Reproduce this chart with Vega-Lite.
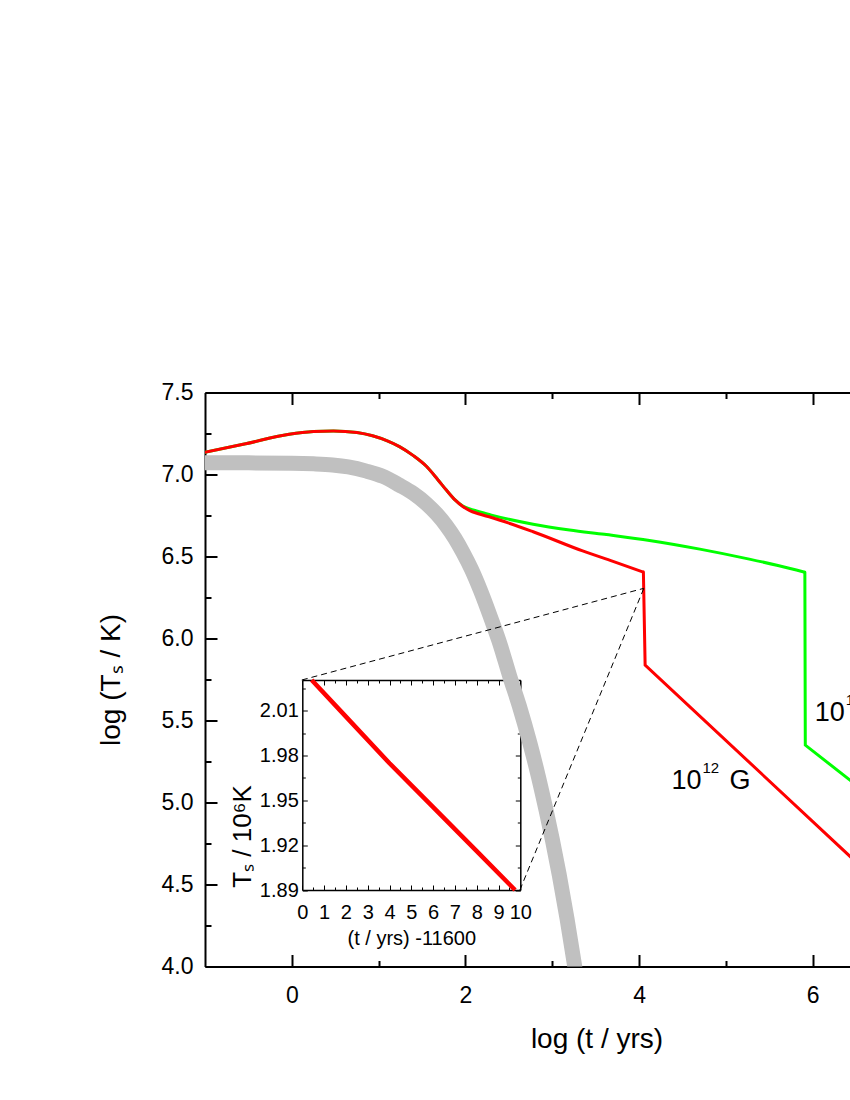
{
  "$schema": "https://vega.github.io/schema/vega-lite/v6.json",
  "width": 645,
  "height": 574,
  "autosize": {"type": "none"},
  "padding": {"left": 205, "top": 392.5, "right": 0, "bottom": 133.5},
  "background": "white",
  "config": {
    "view": {"stroke": null},
    "axis": {
      "grid": false,
      "domainColor": "black",
      "tickColor": "black",
      "labelColor": "black",
      "titleColor": "black",
      "labelFont": "Liberation Sans",
      "titleFont": "Liberation Sans",
      "titleFontWeight": "normal",
      "labelFlush": false,
      "labelOverlap": false,
      "tickCap": "butt"
    }
  },
  "datasets": {
    "gray": [
      {"x": -1.05, "y": 7.072}, {"x": -0.5, "y": 7.071}, {"x": 0, "y": 7.069}, {"x": 0.25, "y": 7.065},
      {"x": 0.47, "y": 7.058}, {"x": 0.65, "y": 7.046}, {"x": 0.86, "y": 7.0205}, {"x": 1.05, "y": 6.988},
      {"x": 1.24, "y": 6.935}, {"x": 1.4, "y": 6.885}, {"x": 1.55, "y": 6.822}, {"x": 1.67, "y": 6.759},
      {"x": 1.78, "y": 6.688}, {"x": 1.88, "y": 6.61}, {"x": 1.97, "y": 6.526}, {"x": 2.07, "y": 6.421},
      {"x": 2.17, "y": 6.297}, {"x": 2.3, "y": 6.114}, {"x": 2.4, "y": 5.963}, {"x": 2.51, "y": 5.77},
      {"x": 2.62, "y": 5.59}, {"x": 2.74, "y": 5.367}, {"x": 2.84, "y": 5.159}, {"x": 2.93, "y": 4.95},
      {"x": 3.0, "y": 4.777}, {"x": 3.08, "y": 4.561}, {"x": 3.17, "y": 4.293}, {"x": 3.26, "y": 3.997},
      {"x": 3.4, "y": 3.484}
    ],
    "red": [
      {"x": -1.05, "y": 7.13}, {"x": -0.56, "y": 7.184}, {"x": -0.03, "y": 7.245}, {"x": 0.25, "y": 7.262},
      {"x": 0.48, "y": 7.266}, {"x": 0.75, "y": 7.256}, {"x": 0.93, "y": 7.236}, {"x": 1.1, "y": 7.205},
      {"x": 1.24, "y": 7.17}, {"x": 1.4, "y": 7.115}, {"x": 1.55, "y": 7.05}, {"x": 1.68, "y": 6.97},
      {"x": 1.78, "y": 6.905}, {"x": 1.88, "y": 6.845}, {"x": 1.97, "y": 6.805}, {"x": 2.05, "y": 6.78},
      {"x": 2.14, "y": 6.762}, {"x": 2.3, "y": 6.738}, {"x": 2.78, "y": 6.651}, {"x": 3.35, "y": 6.534},
      {"x": 3.7, "y": 6.47}, {"x": 4.05, "y": 6.405}
    ],
    "redtail": [
      {"x": 4.05, "y": 6.405}, {"x": 4.07, "y": 5.838}, {"x": 7.0, "y": 4.39}
    ],
    "green": [
      {"x": -1.05, "y": 7.13}, {"x": -0.56, "y": 7.184}, {"x": -0.03, "y": 7.245}, {"x": 0.25, "y": 7.262},
      {"x": 0.48, "y": 7.266}, {"x": 0.75, "y": 7.256}, {"x": 0.93, "y": 7.236}, {"x": 1.1, "y": 7.205},
      {"x": 1.24, "y": 7.17}, {"x": 1.4, "y": 7.115}, {"x": 1.55, "y": 7.05}, {"x": 1.68, "y": 6.97},
      {"x": 1.78, "y": 6.905}, {"x": 1.88, "y": 6.845}, {"x": 1.97, "y": 6.807}, {"x": 2.05, "y": 6.79},
      {"x": 2.14, "y": 6.776}, {"x": 2.3, "y": 6.752}, {"x": 2.78, "y": 6.697}, {"x": 3.2, "y": 6.662},
      {"x": 3.6, "y": 6.635}, {"x": 4.12, "y": 6.598}, {"x": 4.7, "y": 6.545}, {"x": 5.27, "y": 6.484},
      {"x": 5.6, "y": 6.445}, {"x": 5.91, "y": 6.404}
    ],
    "greentail": [
      {"x": 5.91, "y": 6.404}, {"x": 5.915, "y": 5.35}, {"x": 7.0, "y": 4.9}
    ],
    "zoomlines": [
      {"seg": "a", "x": 4.055, "y": 6.306}, {"seg": "a", "x": 0.115, "y": 5.747},
      {"seg": "b", "x": 4.055, "y": 6.306}, {"seg": "b", "x": 2.627, "y": 4.466}
    ],
    "labels": [
      {"x": 4.374, "y": 5.08, "base": "10", "sup": "12", "unit": "G"},
      {"x": 6.025, "y": 5.499, "base": "10", "sup": "13", "unit": "G"}
    ],
    "inset": [
      {"t": 0.43, "T": 2.0305}, {"t": 2, "T": 2.006}, {"t": 4, "T": 1.9748},
      {"t": 6, "T": 1.9455}, {"t": 8, "T": 1.916}, {"t": 9.76, "T": 1.89}
    ]
  },
  "resolve": {"scale": {"x": "independent", "y": "independent"}, "axis": {"x": "independent", "y": "independent"}},
  "layer": [
    {
      "data": {"name": "gray"},
      "mark": {"type": "line", "color": "#c0c0c0", "strokeWidth": 15, "clip": true, "interpolate": "monotone", "strokeCap": "butt"},
      "encoding": {
        "x": {"field": "x", "type": "quantitative", "scale": {"domain": [-1, 6.43], "nice": false, "zero": false},
          "axis": {"orient": "bottom", "values": [0, 2, 4, 6], "tickSize": -12, "tickWidth": 2, "domainWidth": 2,
            "labelPadding": 30, "labelFontSize": 23, "title": "log (t / yrs)", "titleFontSize": 28, "titlePadding": 18, "titleX": 391.5}},
        "y": {"field": "y", "type": "quantitative", "scale": {"domain": [4, 7.5], "nice": false, "zero": false},
          "axis": {"orient": "left", "values": [4, 4.5, 5, 5.5, 6, 6.5, 7, 7.5], "format": ".1f", "tickSize": -12, "tickWidth": 2, "domainWidth": 2,
            "labelPadding": 24, "labelFontSize": 23, "title": "log (Tₛ / K)", "titleFontSize": 28, "titlePadding": 36}}
      }
    },
    {
      "data": {"name": "green"},
      "mark": {"type": "line", "color": "#00ff00", "strokeWidth": 3, "clip": true, "interpolate": "monotone"},
      "encoding": {
        "x": {"field": "x", "type": "quantitative", "scale": {"domain": [-1, 6.43], "nice": false, "zero": false},
          "axis": {"orient": "bottom", "values": [1, 3, 5], "tickSize": -6, "tickWidth": 2, "domain": false, "labels": false, "title": null}},
        "y": {"field": "y", "type": "quantitative", "scale": {"domain": [4, 7.5], "nice": false, "zero": false},
          "axis": {"orient": "left", "values": [4.25, 4.75, 5.25, 5.75, 6.25, 6.75, 7.25], "tickSize": -6, "tickWidth": 2, "domain": false, "labels": false, "title": null}}
      }
    },
    {
      "data": {"name": "greentail"},
      "mark": {"type": "line", "color": "#00ff00", "strokeWidth": 3, "clip": true, "strokeCap": "round"},
      "encoding": {
        "x": {"field": "x", "type": "quantitative", "scale": {"domain": [-1, 6.43], "nice": false, "zero": false}, "axis": null},
        "y": {"field": "y", "type": "quantitative", "scale": {"domain": [4, 7.5], "nice": false, "zero": false}, "axis": null}
      }
    },
    {
      "data": {"name": "red"},
      "mark": {"type": "line", "color": "#ff0000", "strokeWidth": 3, "clip": true, "interpolate": "monotone"},
      "encoding": {
        "x": {"field": "x", "type": "quantitative", "scale": {"domain": [-1, 6.43], "nice": false, "zero": false},
          "axis": {"orient": "top", "values": [0, 2, 4, 6], "tickSize": -12, "tickWidth": 2, "domainWidth": 2, "labels": false, "title": null}},
        "y": {"field": "y", "type": "quantitative", "scale": {"domain": [4, 7.5], "nice": false, "zero": false}, "axis": null}
      }
    },
    {
      "data": {"name": "redtail"},
      "mark": {"type": "line", "color": "#ff0000", "strokeWidth": 3, "clip": true, "strokeCap": "round"},
      "encoding": {
        "x": {"field": "x", "type": "quantitative", "scale": {"domain": [-1, 6.43], "nice": false, "zero": false}, "axis": null},
        "y": {"field": "y", "type": "quantitative", "scale": {"domain": [4, 7.5], "nice": false, "zero": false}, "axis": null}
      }
    },
    {
      "data": {"name": "zoomlines"},
      "mark": {"type": "line", "color": "black", "strokeWidth": 1, "strokeDash": [6, 4], "clip": true},
      "encoding": {
        "detail": {"field": "seg"},
        "x": {"field": "x", "type": "quantitative", "scale": {"domain": [-1, 6.43], "nice": false, "zero": false},
          "axis": {"orient": "top", "values": [1, 3, 5], "tickSize": -6, "tickWidth": 2, "domain": false, "labels": false, "title": null}},
        "y": {"field": "y", "type": "quantitative", "scale": {"domain": [4, 7.5], "nice": false, "zero": false}, "axis": null}
      }
    },
    {
      "data": {"name": "labels"},
      "mark": {"type": "text", "font": "Liberation Sans", "fontSize": 27, "align": "left", "baseline": "alphabetic", "color": "black", "clip": true},
      "encoding": {
        "text": {"field": "base"},
        "x": {"field": "x", "type": "quantitative", "scale": {"domain": [-1, 6.43], "nice": false, "zero": false}, "axis": null},
        "y": {"field": "y", "type": "quantitative", "scale": {"domain": [4, 7.5], "nice": false, "zero": false}, "axis": null}
      }
    },
    {
      "data": {"name": "labels"},
      "mark": {"type": "text", "font": "Liberation Sans", "fontSize": 15, "align": "left", "baseline": "alphabetic", "color": "black", "clip": true, "dx": 31, "dy": -16},
      "encoding": {
        "text": {"field": "sup"},
        "x": {"field": "x", "type": "quantitative", "scale": {"domain": [-1, 6.43], "nice": false, "zero": false}, "axis": null},
        "y": {"field": "y", "type": "quantitative", "scale": {"domain": [4, 7.5], "nice": false, "zero": false}, "axis": null}
      }
    },
    {
      "data": {"name": "labels"},
      "mark": {"type": "text", "font": "Liberation Sans", "fontSize": 27, "align": "left", "baseline": "alphabetic", "color": "black", "clip": true, "dx": 58},
      "encoding": {
        "text": {"field": "unit"},
        "x": {"field": "x", "type": "quantitative", "scale": {"domain": [-1, 6.43], "nice": false, "zero": false}, "axis": null},
        "y": {"field": "y", "type": "quantitative", "scale": {"domain": [4, 7.5], "nice": false, "zero": false}, "axis": null}
      }
    },
    {
      "data": {"name": "inset"},
      "mark": {"type": "line", "color": "#ff0000", "strokeWidth": 4.5},
      "encoding": {
        "x": {"field": "t", "type": "quantitative", "scale": {"domain": [0, 10], "nice": false, "zero": false, "range": [97.3, 315.3]},
          "axis": {"orient": "bottom", "offset": -76.5, "values": [0, 1, 2, 3, 4, 5, 6, 7, 8, 9, 10], "tickSize": -5, "tickWidth": 1, "domainWidth": 1.5,
            "labelPadding": 17, "labelFontSize": 20, "labelAngle": 0, "title": "(t / yrs) -11600", "titleFontSize": 20, "titlePadding": 6}},
        "y": {"field": "T", "type": "quantitative", "scale": {"domain": [1.89, 2.0305], "nice": false, "zero": false, "range": [497.5, 287.5]},
          "axis": {"orient": "left", "offset": -97.3, "values": [1.89, 1.92, 1.95, 1.98, 2.01], "format": ".2f", "tickSize": -5, "tickWidth": 1, "domainWidth": 1.5,
            "labelPadding": 9, "labelFontSize": 20, "title": "Tₛ / 10⁶K", "titleFontSize": 26, "titlePadding": 4, "titleY": 443.5}}
      }
    },
    {
      "data": {"name": "inset"},
      "mark": {"type": "line", "strokeOpacity": 0},
      "encoding": {
        "x": {"field": "t", "type": "quantitative", "scale": {"domain": [0, 10], "nice": false, "zero": false, "range": [97.3, 315.3]},
          "axis": {"orient": "bottom", "offset": -76.5, "values": [0.5, 1.5, 2.5, 3.5, 4.5, 5.5, 6.5, 7.5, 8.5, 9.5], "tickSize": -3, "tickWidth": 1, "domain": false, "labels": false, "title": null}},
        "y": {"field": "T", "type": "quantitative", "scale": {"domain": [1.89, 2.0305], "nice": false, "zero": false, "range": [497.5, 287.5]},
          "axis": {"orient": "left", "offset": -97.3, "values": [1.905, 1.935, 1.965, 1.995, 2.025], "tickSize": -3, "tickWidth": 1, "domain": false, "labels": false, "title": null}}
      }
    },
    {
      "data": {"name": "inset"},
      "mark": {"type": "line", "strokeOpacity": 0},
      "encoding": {
        "x": {"field": "t", "type": "quantitative", "scale": {"domain": [0, 10], "nice": false, "zero": false, "range": [97.3, 315.3]},
          "axis": {"orient": "top", "offset": -287.5, "values": [0, 1, 2, 3, 4, 5, 6, 7, 8, 9, 10], "tickSize": -5, "tickWidth": 1, "domainWidth": 1.5, "labels": false, "title": null}},
        "y": {"field": "T", "type": "quantitative", "scale": {"domain": [1.89, 2.0305], "nice": false, "zero": false, "range": [497.5, 287.5]},
          "axis": {"orient": "right", "offset": -329.7, "values": [1.89, 1.92, 1.95, 1.98, 2.01], "tickSize": -5, "tickWidth": 1, "domainWidth": 1.5, "labels": false, "title": null}}
      }
    },
    {
      "data": {"name": "inset"},
      "mark": {"type": "line", "strokeOpacity": 0},
      "encoding": {
        "x": {"field": "t", "type": "quantitative", "scale": {"domain": [0, 10], "nice": false, "zero": false, "range": [97.3, 315.3]},
          "axis": {"orient": "top", "offset": -287.5, "values": [0.5, 1.5, 2.5, 3.5, 4.5, 5.5, 6.5, 7.5, 8.5, 9.5], "tickSize": -3, "tickWidth": 1, "domain": false, "labels": false, "title": null}},
        "y": {"field": "T", "type": "quantitative", "scale": {"domain": [1.89, 2.0305], "nice": false, "zero": false, "range": [497.5, 287.5]},
          "axis": {"orient": "right", "offset": -329.7, "values": [1.905, 1.935, 1.965, 1.995, 2.025], "tickSize": -3, "tickWidth": 1, "domain": false, "labels": false, "title": null}}
      }
    }
  ]
}
